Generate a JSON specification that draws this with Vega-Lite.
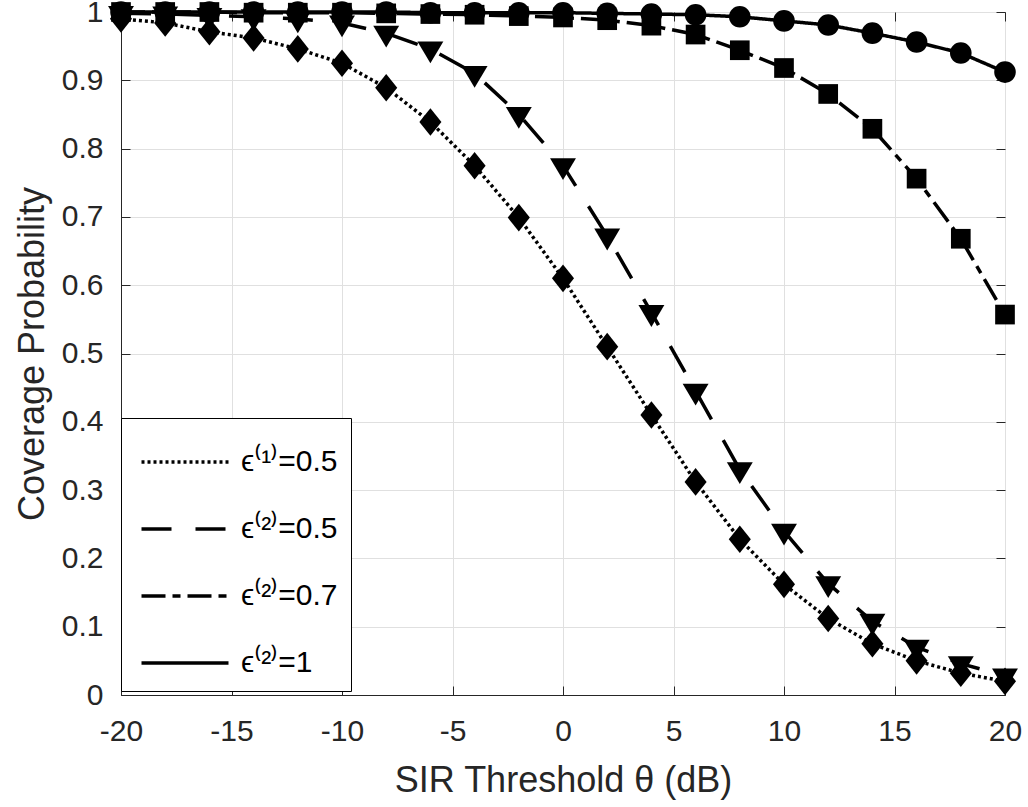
{
  "$schema": "https://vega.github.io/schema/vega-lite/v6.json",
  "autosize": {"type": "none"},
  "width": 884,
  "height": 683,
  "padding": {"left": 121, "top": 12, "right": 23, "bottom": 112},
  "background": "white",
  "config": {
    "font": "Liberation Sans",
    "view": {"stroke": "#262626", "strokeWidth": 1},
    "axis": {
      "domainColor": "#262626",
      "tickColor": "#262626",
      "labelColor": "#262626",
      "titleColor": "#262626",
      "labelFont": "Liberation Sans",
      "titleFont": "Liberation Sans",
      "labelFontSize": 30,
      "titleFontSize": 36,
      "titleFontWeight": "normal",
      "gridColor": "#e0e0e0",
      "gridWidth": 1,
      "tickSize": -9,
      "labelFlush": false
    }
  },
  "data": {
    "values": [
      {"s": "ϵ⁽¹⁾=0.5", "x": -20, "y": 0.99},
      {"s": "ϵ⁽¹⁾=0.5", "x": -18, "y": 0.984},
      {"s": "ϵ⁽¹⁾=0.5", "x": -16, "y": 0.971},
      {"s": "ϵ⁽¹⁾=0.5", "x": -14, "y": 0.962},
      {"s": "ϵ⁽¹⁾=0.5", "x": -12, "y": 0.946},
      {"s": "ϵ⁽¹⁾=0.5", "x": -10, "y": 0.925},
      {"s": "ϵ⁽¹⁾=0.5", "x": -8, "y": 0.889},
      {"s": "ϵ⁽¹⁾=0.5", "x": -6, "y": 0.839},
      {"s": "ϵ⁽¹⁾=0.5", "x": -4, "y": 0.775},
      {"s": "ϵ⁽¹⁾=0.5", "x": -2, "y": 0.699},
      {"s": "ϵ⁽¹⁾=0.5", "x": 0, "y": 0.61},
      {"s": "ϵ⁽¹⁾=0.5", "x": 2, "y": 0.51},
      {"s": "ϵ⁽¹⁾=0.5", "x": 4, "y": 0.41},
      {"s": "ϵ⁽¹⁾=0.5", "x": 6, "y": 0.312},
      {"s": "ϵ⁽¹⁾=0.5", "x": 8, "y": 0.228},
      {"s": "ϵ⁽¹⁾=0.5", "x": 10, "y": 0.162},
      {"s": "ϵ⁽¹⁾=0.5", "x": 12, "y": 0.112},
      {"s": "ϵ⁽¹⁾=0.5", "x": 14, "y": 0.075},
      {"s": "ϵ⁽¹⁾=0.5", "x": 16, "y": 0.05},
      {"s": "ϵ⁽¹⁾=0.5", "x": 18, "y": 0.032},
      {"s": "ϵ⁽¹⁾=0.5", "x": 20, "y": 0.02},
      {"s": "ϵ⁽²⁾=0.5", "x": -20, "y": 0.998},
      {"s": "ϵ⁽²⁾=0.5", "x": -18, "y": 0.997},
      {"s": "ϵ⁽²⁾=0.5", "x": -16, "y": 0.995},
      {"s": "ϵ⁽²⁾=0.5", "x": -14, "y": 0.993},
      {"s": "ϵ⁽²⁾=0.5", "x": -12, "y": 0.99},
      {"s": "ϵ⁽²⁾=0.5", "x": -10, "y": 0.984},
      {"s": "ϵ⁽²⁾=0.5", "x": -8, "y": 0.969},
      {"s": "ϵ⁽²⁾=0.5", "x": -6, "y": 0.946},
      {"s": "ϵ⁽²⁾=0.5", "x": -4, "y": 0.91},
      {"s": "ϵ⁽²⁾=0.5", "x": -2, "y": 0.85},
      {"s": "ϵ⁽²⁾=0.5", "x": 0, "y": 0.775},
      {"s": "ϵ⁽²⁾=0.5", "x": 2, "y": 0.672},
      {"s": "ϵ⁽²⁾=0.5", "x": 4, "y": 0.56},
      {"s": "ϵ⁽²⁾=0.5", "x": 6, "y": 0.445},
      {"s": "ϵ⁽²⁾=0.5", "x": 8, "y": 0.33},
      {"s": "ϵ⁽²⁾=0.5", "x": 10, "y": 0.24},
      {"s": "ϵ⁽²⁾=0.5", "x": 12, "y": 0.163},
      {"s": "ϵ⁽²⁾=0.5", "x": 14, "y": 0.108},
      {"s": "ϵ⁽²⁾=0.5", "x": 16, "y": 0.07},
      {"s": "ϵ⁽²⁾=0.5", "x": 18, "y": 0.046},
      {"s": "ϵ⁽²⁾=0.5", "x": 20, "y": 0.028},
      {"s": "ϵ⁽²⁾=0.7", "x": -20, "y": 1.0},
      {"s": "ϵ⁽²⁾=0.7", "x": -18, "y": 1.0},
      {"s": "ϵ⁽²⁾=0.7", "x": -16, "y": 1.0},
      {"s": "ϵ⁽²⁾=0.7", "x": -14, "y": 0.999},
      {"s": "ϵ⁽²⁾=0.7", "x": -12, "y": 0.999},
      {"s": "ϵ⁽²⁾=0.7", "x": -10, "y": 0.999},
      {"s": "ϵ⁽²⁾=0.7", "x": -8, "y": 0.998},
      {"s": "ϵ⁽²⁾=0.7", "x": -6, "y": 0.997},
      {"s": "ϵ⁽²⁾=0.7", "x": -4, "y": 0.996},
      {"s": "ϵ⁽²⁾=0.7", "x": -2, "y": 0.994},
      {"s": "ϵ⁽²⁾=0.7", "x": 0, "y": 0.992},
      {"s": "ϵ⁽²⁾=0.7", "x": 2, "y": 0.988},
      {"s": "ϵ⁽²⁾=0.7", "x": 4, "y": 0.98},
      {"s": "ϵ⁽²⁾=0.7", "x": 6, "y": 0.967},
      {"s": "ϵ⁽²⁾=0.7", "x": 8, "y": 0.944},
      {"s": "ϵ⁽²⁾=0.7", "x": 10, "y": 0.918},
      {"s": "ϵ⁽²⁾=0.7", "x": 12, "y": 0.88},
      {"s": "ϵ⁽²⁾=0.7", "x": 14, "y": 0.829},
      {"s": "ϵ⁽²⁾=0.7", "x": 16, "y": 0.756},
      {"s": "ϵ⁽²⁾=0.7", "x": 18, "y": 0.668},
      {"s": "ϵ⁽²⁾=0.7", "x": 20, "y": 0.557},
      {"s": "ϵ⁽²⁾=1", "x": -20, "y": 1.0},
      {"s": "ϵ⁽²⁾=1", "x": -18, "y": 1.0},
      {"s": "ϵ⁽²⁾=1", "x": -16, "y": 1.0},
      {"s": "ϵ⁽²⁾=1", "x": -14, "y": 1.0},
      {"s": "ϵ⁽²⁾=1", "x": -12, "y": 1.0},
      {"s": "ϵ⁽²⁾=1", "x": -10, "y": 1.0},
      {"s": "ϵ⁽²⁾=1", "x": -8, "y": 1.0},
      {"s": "ϵ⁽²⁾=1", "x": -6, "y": 0.999},
      {"s": "ϵ⁽²⁾=1", "x": -4, "y": 0.999},
      {"s": "ϵ⁽²⁾=1", "x": -2, "y": 0.999},
      {"s": "ϵ⁽²⁾=1", "x": 0, "y": 0.999},
      {"s": "ϵ⁽²⁾=1", "x": 2, "y": 0.998},
      {"s": "ϵ⁽²⁾=1", "x": 4, "y": 0.997},
      {"s": "ϵ⁽²⁾=1", "x": 6, "y": 0.996},
      {"s": "ϵ⁽²⁾=1", "x": 8, "y": 0.993},
      {"s": "ϵ⁽²⁾=1", "x": 10, "y": 0.987},
      {"s": "ϵ⁽²⁾=1", "x": 12, "y": 0.981},
      {"s": "ϵ⁽²⁾=1", "x": 14, "y": 0.969},
      {"s": "ϵ⁽²⁾=1", "x": 16, "y": 0.956},
      {"s": "ϵ⁽²⁾=1", "x": 18, "y": 0.94},
      {"s": "ϵ⁽²⁾=1", "x": 20, "y": 0.912}
    ]
  },
  "layer": [
    {
      "mark": {"type": "line", "stroke": "black", "strokeWidth": 3.5, "clip": false},
      "encoding": {
        "x": {"field": "x", "type": "quantitative",
          "scale": {"domain": [-20, 20], "nice": false},
          "axis": {"values": [-20, -15, -10, -5, 0, 5, 10, 15, 20], "labelExpr": "replace(datum.label, '−', '-')", "title": "SIR Threshold θ (dB)", "labelPadding": 30, "titlePadding": 17, "grid": true}},
        "y": {"field": "y", "type": "quantitative",
          "scale": {"domain": [0, 1], "nice": false},
          "axis": {"values": [0, 0.1, 0.2, 0.3, 0.4, 0.5, 0.6, 0.7, 0.8, 0.9, 1], "format": ".1~f", "title": "Coverage Probability", "labelPadding": 27, "titlePadding": 10, "grid": true}},
        "strokeDash": {"field": "s", "type": "nominal",
          "scale": {"domain": ["ϵ⁽¹⁾=0.5", "ϵ⁽²⁾=0.5", "ϵ⁽²⁾=0.7", "ϵ⁽²⁾=1"],
                    "range": [[3, 3], [30, 24], [24, 7, 8, 7], [1, 0]]},
          "legend": {
            "title": null,
            "orient": "none",
            "legendX": 0,
            "legendY": 406,
            "symbolType": "M-1.5,0H1.5",
            "symbolSize": 3364,
            "symbolStrokeWidth": 3.5,
            "symbolStrokeColor": "black",
            "symbolOffset": 20,
            "labelFont": "Liberation Sans",
            "labelFontSize": 30,
            "labelColor": "black",
            "labelOffset": 25,
            "rowPadding": 21,
            "padding": 13,
            "strokeColor": "black",
            "fillColor": "white"
          }},
        "detail": {"field": "s"}
      }
    },
    {
      "mark": {"type": "point", "filled": true, "fill": "black", "stroke": null, "opacity": 1, "size": 576, "clip": false},
      "encoding": {
        "x": {"field": "x", "type": "quantitative",
          "axis": {"orient": "top", "values": [-20, -15, -10, -5, 0, 5, 10, 15, 20], "labels": false, "title": null, "grid": false, "domain": false}},
        "y": {"field": "y", "type": "quantitative",
          "axis": {"orient": "right", "values": [0, 0.1, 0.2, 0.3, 0.4, 0.5, 0.6, 0.7, 0.8, 0.9, 1], "labels": false, "title": null, "grid": false, "domain": false}},
        "shape": {"field": "s", "type": "nominal",
          "scale": {"domain": ["ϵ⁽²⁾=1", "ϵ⁽²⁾=0.7", "ϵ⁽²⁾=0.5", "ϵ⁽¹⁾=0.5"],
                    "range": ["M0.9,0A0.9,0.9,0,1,1,-0.9,0A0.9,0.9,0,1,1,0.9,0Z", "M-0.82,-0.82H0.82V0.82H-0.82Z", "M-1.08,-0.62L1.08,-0.62L0,1.2Z", "M0,-1.15L0.92,0L0,1.15L-0.92,0Z"]},
          "legend": null}
      }
    }
  ],
  "resolve": {"axis": {"x": "independent", "y": "independent"}, "legend": {"shape": "independent", "strokeDash": "independent"}}
}
